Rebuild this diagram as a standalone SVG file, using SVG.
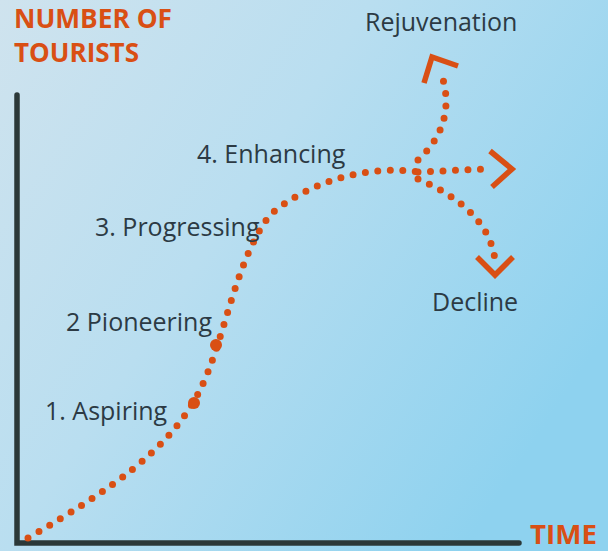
<svg xmlns="http://www.w3.org/2000/svg" width="608" height="551" viewBox="0 0 608 551">
<defs>
<linearGradient id="bg" x1="0" y1="0" x2="1" y2="0.6">
<stop offset="0" stop-color="#cfe3ee"/>
<stop offset="0.45" stop-color="#b9def0"/>
<stop offset="1" stop-color="#8ed2ef"/>
</linearGradient>
<style>
.lbl{font-family:"Open Sans","Liberation Sans",sans-serif;font-size:25px;fill:#2c3a44}
.ttl{font-family:"Open Sans","Liberation Sans",sans-serif;font-size:27px;font-weight:bold;fill:#d94f14}
.dot{fill:none;stroke:#d94f14;stroke-width:7;stroke-linecap:round;stroke-dasharray:0 12.5}
.chev{fill:none;stroke:#d94f14;stroke-width:5.5;stroke-linecap:butt;stroke-linejoin:miter}
.axis{fill:none;stroke:#2b3838;stroke-width:5.5;stroke-linecap:round}
</style>
</defs>
<rect width="608" height="551" fill="url(#bg)"/>
<g id="axes">
<path class="axis" d="M17,95 L17,543 L519,543"/>
</g>
<g id="titles">
<text class="ttl" x="14" y="28" textLength="158" lengthAdjust="spacingAndGlyphs">NUMBER OF</text>
<text class="ttl" x="14" y="62" textLength="125" lengthAdjust="spacingAndGlyphs">TOURISTS</text>
<text class="ttl" x="530" y="544" textLength="67" lengthAdjust="spacingAndGlyphs">TIME</text>
</g>
<g id="connectors">
<path class="dot" d="M28,538 C110,490 170,450 200,390 C225,340 235,260 270,215 C310,180 370,165 418,172"/>
<path class="dot" d="M418,160 C440,140 455,110 440,70"/>
<path class="dot" d="M418,172 L486,169"/>
<path class="dot" d="M418,179 C455,195 490,220 495,260"/>
<circle cx="216" cy="345" r="6" fill="#d94f14"/>
<circle cx="194" cy="403" r="6" fill="#d94f14"/>
<path class="chev" d="M424,83 L432,57 L458,66"/>
<path class="chev" d="M490,151 L512,169 L492,187"/>
<path class="chev" d="M477,257 L495,275 L513,257"/>
</g>
<g id="n-rejuvenation"><text class="lbl" x="365" y="31">Rejuvenation</text></g>
<g id="n-enhancing"><text class="lbl" x="197" y="163">4. Enhancing</text></g>
<g id="n-progressing"><text class="lbl" x="95" y="236">3. Progressing</text></g>
<g id="n-pioneering"><text class="lbl" x="66" y="331">2 Pioneering</text></g>
<g id="n-aspiring"><text class="lbl" x="45" y="420">1. Aspiring</text></g>
<g id="n-decline"><text class="lbl" x="432" y="311">Decline</text></g>
</svg>
